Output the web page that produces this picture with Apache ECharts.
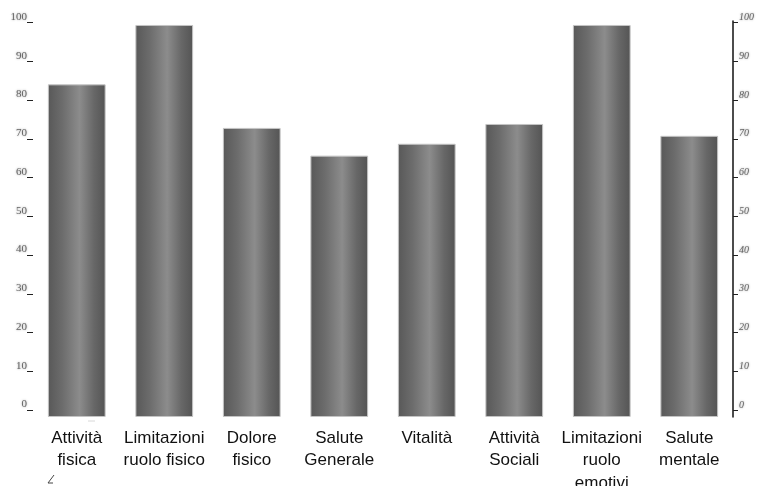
<!DOCTYPE html>
<html>
<head>
<meta charset="utf-8">
<script src="https://cdn.jsdelivr.net/npm/echarts@6/dist/echarts.min.js"></script>
<style>
  html, body { margin: 0; padding: 0; background: #ffffff; }
  #chart { width: 758px; height: 486px; }
</style>
</head>
<body>
<div id="chart"></div>
<script>
// SF-36 domain scores
const categories = [
  'Attività\nfisica',
  'Limitazioni\nruolo fisico',
  'Dolore\nfisico',
  'Salute\nGenerale',
  'Vitalità',
  'Attività\nSociali',
  'Limitazioni\nruolo\nemotivi',
  'Salute\nmentale'
];
const scores = [84, 99, 73, 66, 69, 74, 99, 71];
const tickValues = [0, 10, 20, 30, 40, 50, 60, 70, 80, 90, 100];

// Cylinder-like shading across each bar
const barFill = {
  type: 'linear', x: 0, y: 0, x2: 1, y2: 0,
  colorStops: [
    { offset: 0, color: '#585858' },
    { offset: 0.25, color: '#6c6c6c' },
    { offset: 0.55, color: '#8c8c8c' },
    { offset: 0.8, color: '#676767' },
    { offset: 1, color: '#545454' }
  ]
};

const tickAxis = (position) => {
  const right = position === 'right';
  return {
    type: 'value',
    position: position,
    min: -1.8,
    max: 100.4,
    splitLine: { show: false },
    axisLine: { show: right, onZero: false, lineStyle: { color: '#111', width: 1.5 } },
    axisTick: {
      show: true,
      length: right ? 5 : 6,
      customValues: tickValues,
      lineStyle: { color: '#222', width: 1 }
    },
    axisLabel: {
      show: true,
      customValues: tickValues,
      margin: right ? 6 : 6,
      verticalAlign: 'bottom',
      fontFamily: 'Liberation Serif',
      fontStyle: right ? 'italic' : 'normal',
      fontSize: right ? 10 : 11,
      color: '#666',
      textShadowColor: 'rgba(60,60,60,0.5)',
      textShadowBlur: 2
    }
  };
};

const chart = echarts.init(document.getElementById('chart'), null, { renderer: 'canvas' });
chart.setOption({
  animation: false,
  backgroundColor: '#ffffff',
  grid: { left: 33, right: 25, top: 21, bottom: 69, containLabel: false, outerBoundsMode: 'none' },
  xAxis: {
    type: 'category',
    data: categories,
    axisLine: { show: false },
    axisTick: { show: false },
    axisLabel: {
      interval: 0,
      margin: 10,
      fontFamily: 'Liberation Sans',
      fontSize: 17,
      lineHeight: 22.5,
      color: '#111',
      align: 'center'
    }
  },
  yAxis: [
    {
      type: 'value',
      min: 0,
      max: 100,
      show: false
    },
    tickAxis('left'),
    tickAxis('right')
  ],
  series: [{
    type: 'bar',
    yAxisIndex: 0,
    data: scores,
    barWidth: '66%',
    itemStyle: {
      color: barFill,
      borderColor: '#c4c4c4',
      borderWidth: 1
    }
  }],
  graphic: [
    { type: 'line', shape: { x1: 88, y1: 421, x2: 95, y2: 421 }, style: { stroke: '#d8d8d8', lineWidth: 1 } },
    { type: 'polyline', shape: { points: [[54, 475], [48, 483], [53, 483]] }, style: { stroke: '#444', lineWidth: 1, fill: null } }
  ]
});
</script>
</body>
</html>
